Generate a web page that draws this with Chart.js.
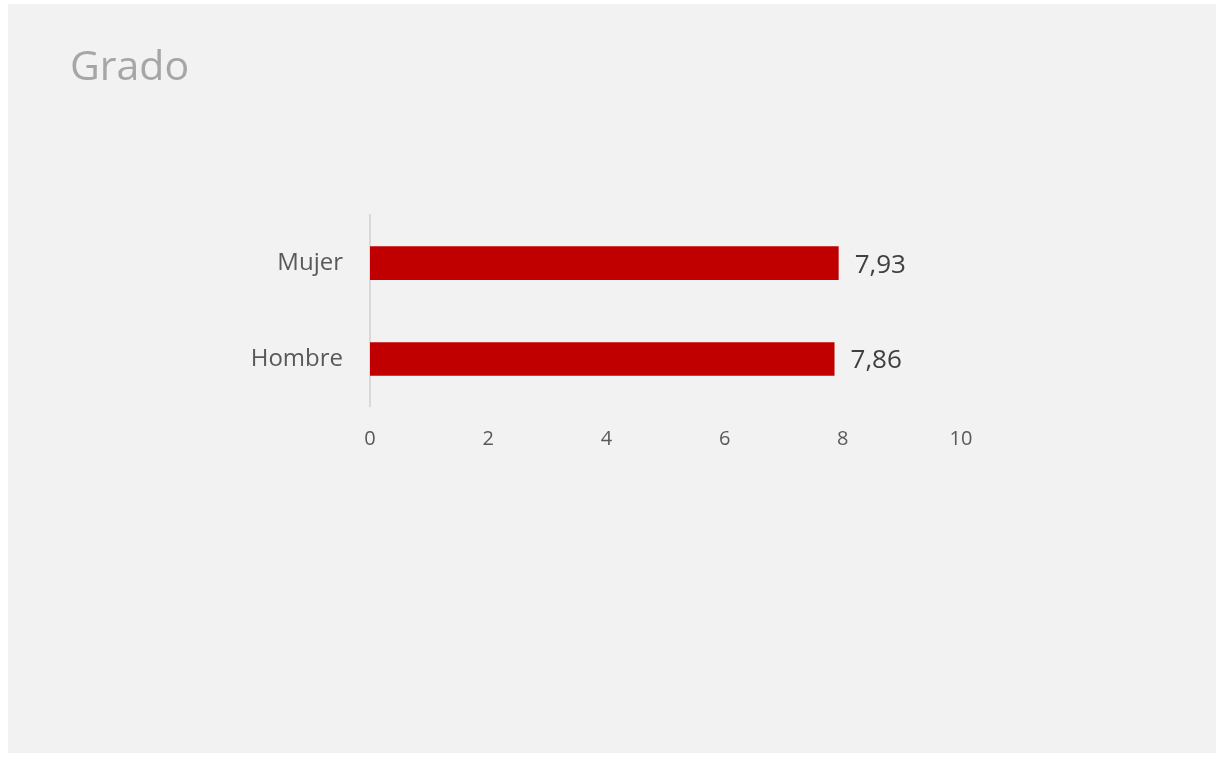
<!DOCTYPE html>
<html>
<head>
<meta charset="utf-8">
<script src="https://cdn.jsdelivr.net/npm/chart.js@4"></script>
<style>
  body { margin: 0; background: #ffffff; }
  #panel { position: absolute; left: 8px; top: 4px; width: 1208px; height: 749px; background: #f2f2f2; }
</style>
</head>
<body>
<div id="panel"><canvas id="gradoChart" width="1208" height="749"></canvas></div>
<script>
// datos
const categorias = ['Mujer', 'Hombre'];
const valores = [7.93, 7.86];
const ticksX = [0, 2, 4, 6, 8, 10];

const fuente = "'Open Sans', sans-serif";

// etiquetas de valor al final de cada barra
const etiquetasValor = {
    id: 'etiquetasValor',
    afterDatasetsDraw(chart) {
        const ctx = chart.ctx;
        const meta = chart.getDatasetMeta(0);
        ctx.save();
        ctx.font = '26px ' + fuente;
        ctx.fillStyle = '#404040';
        ctx.textAlign = 'left';
        ctx.textBaseline = 'middle';
        meta.data.forEach((bar, i) => {
            const txt = valores[i].toFixed(2).replace('.', ',');
            ctx.fillText(txt, bar.x + 16, bar.y + 2);
        });
        ctx.restore();
    }
};

const ctx = document.getElementById('gradoChart').getContext('2d');
const gradoChart = new Chart(ctx, {
    type: 'bar',
    data: {
        labels: categorias,
        datasets: [{
            label: 'Grado',
            data: valores,
            backgroundColor: '#c00000',
            borderWidth: 0,
            categoryPercentage: 0.35,
            barPercentage: 1
        }]
    },
    options: {
        indexAxis: 'y',
        responsive: false,
        animation: false,
        layout: {
            padding: { left: 62, right: 255, top: 0, bottom: 296 }
        },
        plugins: {
            legend: { display: false },
            tooltip: { enabled: false },
            title: {
                display: true,
                text: 'Grado',
                align: 'start',
                color: '#a6a6a6',
                font: { family: fuente, size: 41, weight: 'normal' },
                padding: { top: 40, bottom: 122 }
            }
        },
        scales: {
            x: {
                min: 0,
                max: 10,
                afterBuildTicks: scale => { scale.ticks = ticksX.map(v => ({ value: v })); },
                afterFit: scale => { scale.height = 50; },
                grid: { display: false, drawTicks: false },
                border: { display: false },
                ticks: {
                    color: '#595959',
                    padding: 20,
                    font: { family: fuente, size: 20 }
                }
            },
            y: {
                afterFit: scale => { scale.width = 300; },
                grid: { display: false, drawTicks: false },
                border: { display: true, color: '#d9d9d9', width: 2 },
                ticks: {
                    color: '#595959',
                    padding: 27,
                    font: { family: fuente, size: 24 }
                }
            }
        }
    },
    plugins: [etiquetasValor]
});
</script>
</body>
</html>
